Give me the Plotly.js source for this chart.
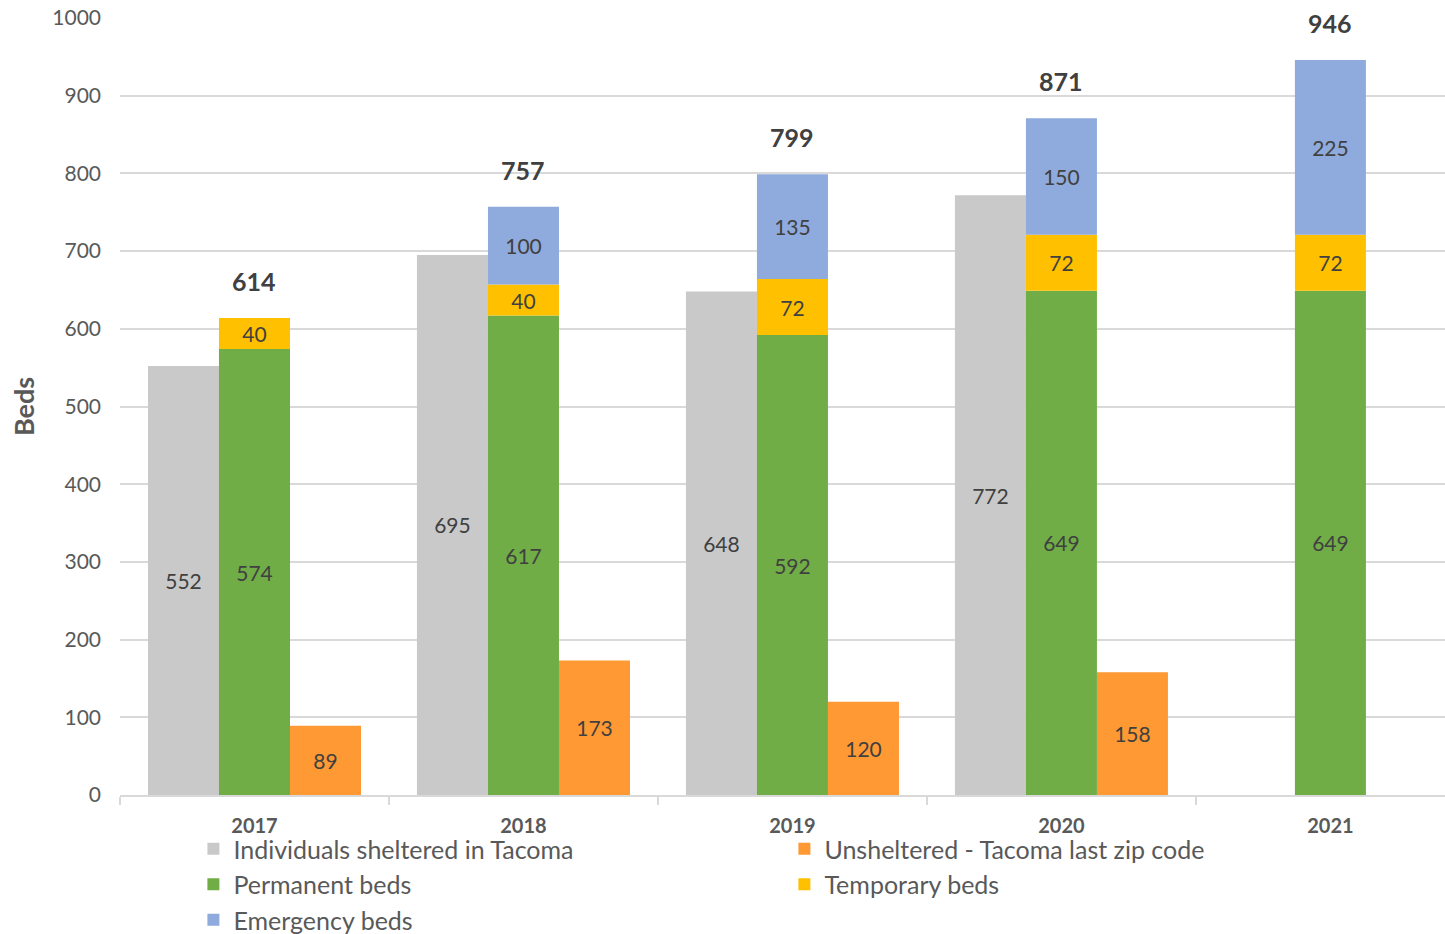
<!DOCTYPE html>
<html>
<head>
<meta charset="utf-8">
<script src="https://cdn.plot.ly/plotly-3.0.1.min.js"></script>
<style>html,body{margin:0;padding:0;background:#fff;}#chart{width:1445px;height:934px;}</style>
</head>
<body>
<div id="chart"></div>
<script>
const years = ['2017', '2018', '2019', '2020', '2021'];
const sheltered = [552, 695, 648, 772, null];
const permanent = [574, 617, 592, 649, 649];
const temporary = [40, 40, 72, 72, 72];
const emergency = [null, 100, 135, 150, 225];
const unsheltered = [89, 173, 120, 158, null];
const yTicks = [0, 100, 200, 300, 400, 500, 600, 700, 800, 900, 1000];

const FONT = 'Lato, "Open Sans", sans-serif';
const TXT = '#404040';
const W = 0.264;

const baseTemp = permanent.map(v => v);
const baseEmerg = permanent.map((v, i) => v + temporary[i]);
const totals = permanent.map((v, i) => v + (temporary[i] || 0) + (emergency[i] || 0));

function barTrace(name, vals, color, offset, base, rank) {
  const t = {
    type: 'bar', name: name, x: years, y: vals,
    marker: {color: color, line: {width: 0}},
    width: W, offset: offset,
    text: vals.map(v => v == null ? '' : String(v)),
    texttemplate: '%{text}',
    textposition: 'inside', insidetextanchor: 'middle',
    textangle: 0,
    textfont: {family: FONT, size: 21, color: TXT},
    constraintext: 'none',
    hoverinfo: 'skip',
    legendrank: rank
  };
  if (base) t.base = base;
  return t;
}

const traces = [
  barTrace('Individuals sheltered in Tacoma', sheltered, '#C9C9C9', -0.396, null, 1),
  barTrace('Unsheltered - Tacoma last zip code', unsheltered, '#FF9933', 0.132, null, 2),
  barTrace('Permanent beds', permanent, '#70AD47', -0.132, null, 3),
  barTrace('Temporary beds', temporary, '#FFC000', -0.132, baseTemp, 4),
  barTrace('Emergency beds', emergency, '#8FAADC', -0.132, baseEmerg, 5)
];

const annotations = years.map((yr, i) => ({
  x: i, y: totals[i], xref: 'x', yref: 'y',
  text: '<b>' + totals[i] + '</b>', showarrow: false,
  yanchor: 'bottom', yshift: 20,
  font: {family: FONT, size: 25, color: TXT}
}));

const layout = {
  width: 1445, height: 934,
  margin: {l: 120, r: 0, t: 18, b: 139, autoexpand: false},
  paper_bgcolor: '#fff', plot_bgcolor: '#fff',
  barmode: 'overlay',
  showlegend: true,
  font: {family: FONT, color: '#595959'},
  xaxis: {
    type: 'category',
    range: [-0.5, 4.426],
    tickson: 'boundaries',
    ticks: 'outside', ticklen: 8, tickwidth: 2, tickcolor: '#D9D9D9',
    showline: true, linecolor: '#D9D9D9', linewidth: 2,
    showgrid: false,
    tickfont: {family: FONT, size: 20, color: '#595959', weight: 'bold'},
    ticklabelstandoff: 12,
    fixedrange: true
  },
  yaxis: {
    range: [0, 1000],
    tickvals: yTicks,
    ticktext: yTicks.map(String),
    showgrid: true, gridcolor: '#D9D9D9', gridwidth: 2,
    zeroline: false, showline: false, ticks: '',
    tickfont: {family: FONT, size: 21, color: '#595959'},
    ticklabelstandoff: 18,
    title: {text: '<b>Beds</b>', font: {family: FONT, size: 27, color: '#595959'}, standoff: 9},
    fixedrange: true
  },
  legend: {
    orientation: 'h',
    x: 0.0554, xanchor: 'left',
    y: -0.0399, yanchor: 'top',
    entrywidth: 546, entrywidthmode: 'pixels',
    traceorder: 'normal',
    bgcolor: 'rgba(0,0,0,0)',
    font: {family: FONT, size: 25, color: '#595959'},
    itemclick: false, itemdoubleclick: false,
    tracegroupgap: 0
  },
  annotations: annotations
};

Plotly.newPlot('chart', traces, layout, {displayModeBar: false, staticPlot: true});
</script>
</body>
</html>
